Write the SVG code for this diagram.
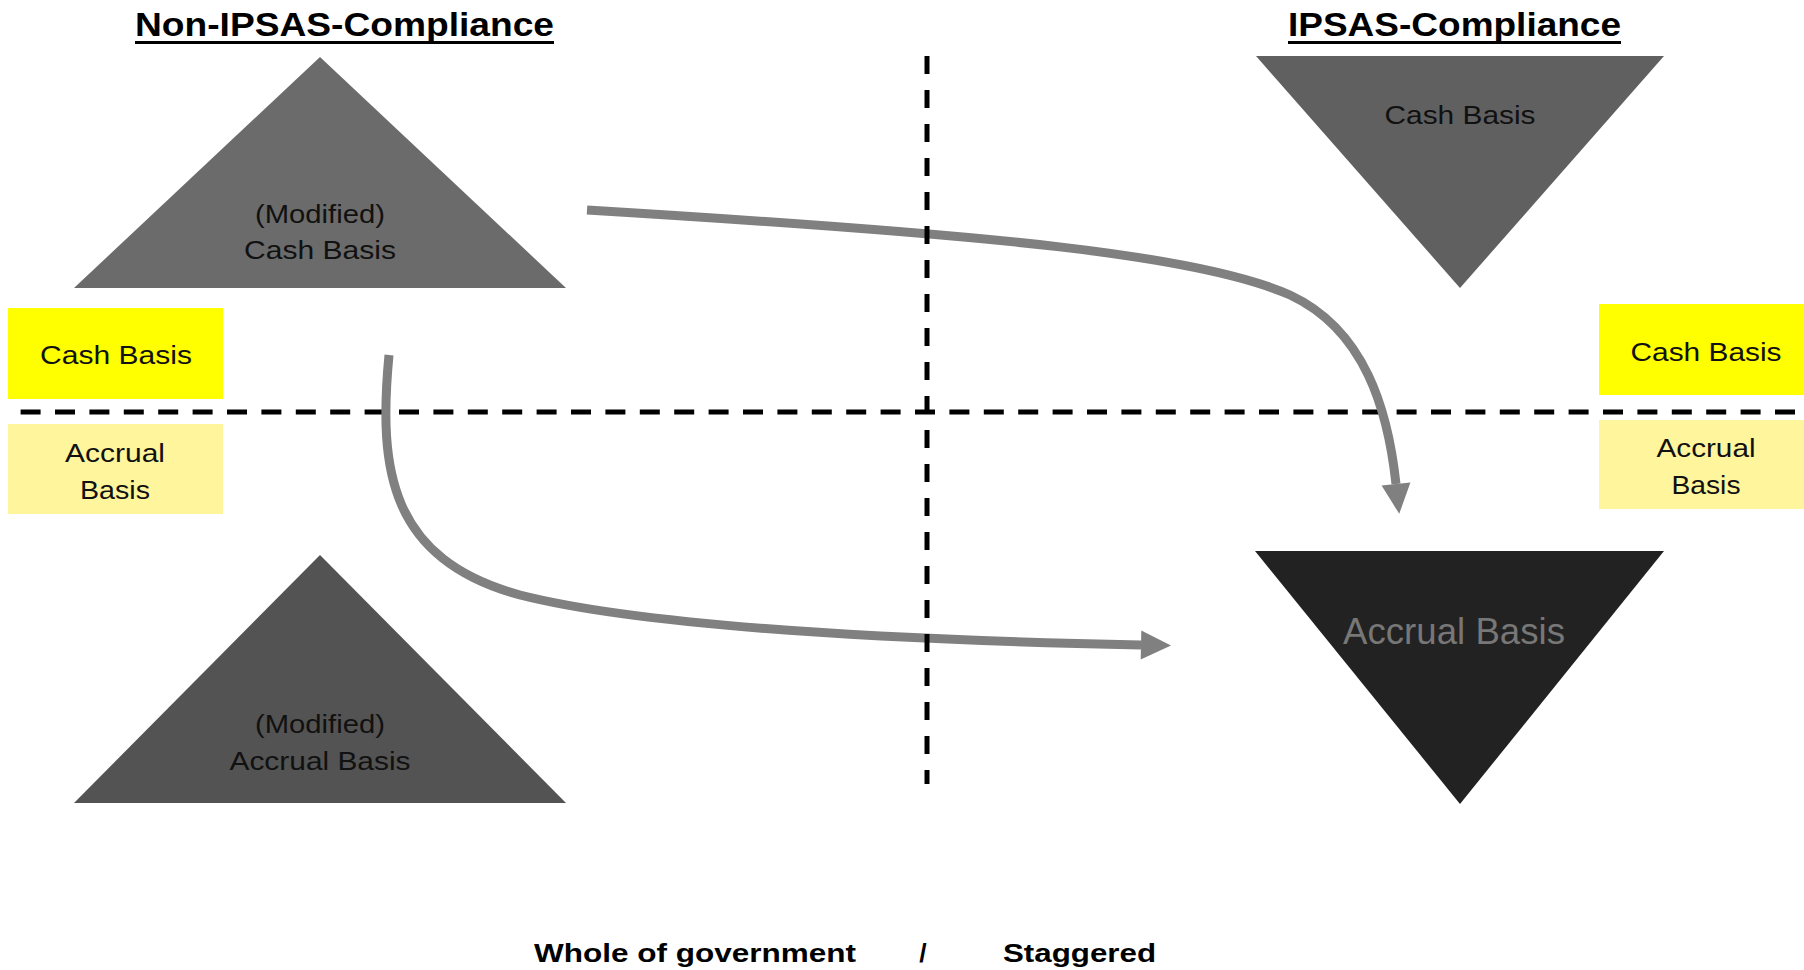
<svg xmlns="http://www.w3.org/2000/svg" width="1804" height="970" viewBox="0 0 1804 970">
<style>
.t{font-family:"Liberation Sans",Arial,sans-serif;font-size:26.5px;fill:#111;text-anchor:middle}
.title{font-family:"Liberation Sans",Arial,sans-serif;font-size:34px;font-weight:bold;fill:#000}
.foot{font-family:"Liberation Sans",Arial,sans-serif;font-size:26.5px;font-weight:bold;fill:#000}
.dash{stroke:#000;stroke-width:5;fill:none}
.arrow{stroke:#808080;stroke-width:9;fill:none}
</style>
<defs>
<marker id="ah" markerUnits="userSpaceOnUse" markerWidth="32" markerHeight="30" refX="0" refY="14.5" orient="auto" overflow="visible">
<path d="M0,0 L30,14.5 L0,29 z" fill="#808080"/>
</marker>
</defs>
<rect width="1804" height="970" fill="#fff"/>
<g id="title-left">
<text class="title" x="135" y="36" textLength="419" lengthAdjust="spacingAndGlyphs">Non-IPSAS-Compliance</text>
<line x1="135" y1="42.5" x2="554" y2="42.5" stroke="#000" stroke-width="3"/>
</g>
<g id="title-right">
<text class="title" x="1288" y="36" textLength="333" lengthAdjust="spacingAndGlyphs">IPSAS-Compliance</text>
<line x1="1288" y1="42.5" x2="1621" y2="42.5" stroke="#000" stroke-width="3"/>
</g>
<g id="dividers-h">
<line class="dash" x1="20.6" y1="412" x2="1804" y2="412" stroke-dasharray="20 14.4"/>
</g>
<g id="tri-tl">
<polygon points="320,57 74,288 566,288" fill="#6b6b6b"/>
<text class="t" x="320" y="223" textLength="130" lengthAdjust="spacingAndGlyphs">(Modified)</text>
<text class="t" x="320" y="259" textLength="152" lengthAdjust="spacingAndGlyphs">Cash Basis</text>
</g>
<g id="tri-tr">
<polygon points="1256,56 1664,56 1460,288" fill="#606060"/>
<text class="t" x="1460" y="124" textLength="151" lengthAdjust="spacingAndGlyphs">Cash Basis</text>
</g>
<g id="tri-bl">
<polygon points="320,555 74,803 566,803" fill="#535353"/>
<text class="t" x="320" y="733" textLength="130" lengthAdjust="spacingAndGlyphs">(Modified)</text>
<text class="t" x="320" y="770" textLength="181" lengthAdjust="spacingAndGlyphs">Accrual Basis</text>
</g>
<g id="tri-br">
<polygon points="1255,551 1664,551 1460,804" fill="#222222"/>
<text class="t" x="1454" y="644" style="font-size:36px;fill:#777" textLength="222" lengthAdjust="spacingAndGlyphs">Accrual Basis</text>
</g>
<g id="box-cash-left">
<rect x="8" y="308" width="215" height="91" fill="#ffff00"/>
<text class="t" x="116" y="364" textLength="152" lengthAdjust="spacingAndGlyphs">Cash Basis</text>
</g>
<g id="box-accrual-left">
<rect x="8" y="424" width="215" height="90" fill="#fff59d"/>
<text class="t" x="115" y="462" textLength="100" lengthAdjust="spacingAndGlyphs">Accrual</text>
<text class="t" x="115" y="499" textLength="70" lengthAdjust="spacingAndGlyphs">Basis</text>
</g>
<g id="box-cash-right">
<rect x="1599" y="304" width="205" height="91" fill="#ffff00"/>
<text class="t" x="1706" y="361" textLength="151" lengthAdjust="spacingAndGlyphs">Cash Basis</text>
</g>
<g id="box-accrual-right">
<rect x="1599" y="420" width="205" height="89" fill="#fff59d"/>
<text class="t" x="1706" y="457" textLength="99" lengthAdjust="spacingAndGlyphs">Accrual</text>
<text class="t" x="1706" y="494" textLength="69" lengthAdjust="spacingAndGlyphs">Basis</text>
</g>
<g id="connectors">
<path class="arrow" d="M587,210 C1000,235 1200,255 1290,295 C1365,330 1388,410 1396,484" marker-end="url(#ah)"/>
<path class="arrow" d="M389,355 C378,470 390,560 520,595 C650,628 900,640 1141,645" marker-end="url(#ah)"/>
</g>
<g id="dividers-v">
<line class="dash" x1="927" y1="56" x2="927" y2="784" stroke-dasharray="18 16"/>
</g>
<g id="footer">
<text class="foot" x="534" y="962" textLength="322" lengthAdjust="spacingAndGlyphs">Whole of government</text>
<text class="foot" x="923" y="962" text-anchor="middle">/</text>
<text class="foot" x="1003" y="962" textLength="153" lengthAdjust="spacingAndGlyphs">Staggered</text>
</g>
</svg>
